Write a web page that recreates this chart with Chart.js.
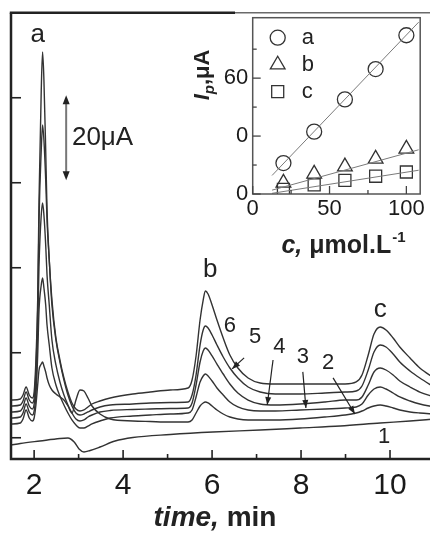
<!DOCTYPE html>
<html>
<head>
<meta charset="utf-8">
<script src="https://cdn.jsdelivr.net/npm/chart.js@4.4.1/dist/chart.umd.min.js"></script>
<style>
  html, body { margin: 0; padding: 0; background: #fff; overflow: hidden; width: 430px; height: 536px; }
  #wrap { position: relative; width: 430px; height: 536px; overflow: hidden; }
  #main { position: absolute; left: 0; top: 0; }
  #inset { position: absolute; left: 185px; top: 0; }
</style>
</head>
<body>
<div id="wrap">
  <canvas id="main" width="440" height="536"></canvas>
  <canvas id="inset" width="245" height="262"></canvas>
</div>
<script>
// ---- chromatograms: retention time (min) and current (µA) ----
const sampleTimes = [1.48, 1.69, 1.75, 1.82, 1.89, 1.96, 2.00,
  2.04, 2.08, 2.11, 2.16, 2.19,
  2.22, 2.26, 2.29, 2.34, 2.40,
  2.49, 2.58, 2.67, 2.76,
  2.85, 2.94, 3.03, 3.12, 3.21, 3.30,
  3.48, 3.71, 4.22, 4.61, 5.06, 5.46,
  5.55, 5.64, 5.73, 5.80, 5.85,
  5.91, 6.00, 6.11, 6.25, 6.40,
  6.58, 6.81, 7.08, 7.42, 7.98,
  8.54, 8.99, 9.24, 9.37, 9.51,
  9.64, 9.78, 9.91, 10.07, 10.22,
  10.45, 10.67, 10.99];

const trace2 = [3.24, 3.47, 4.41, 6.53, 4.65, 3.94, 4.65,
  7.71, 12.41, 15.94, 17.35, 17.82,
  16.88, 15.47, 14.06, 12.41, 11.24,
  10.29, 9.59, 8.88, 7.47,
  5.82, 8.88, 11.24, 11.00, 9.35, 7.47,
  5.59, 4.41, 3.94, 3.82, 3.71, 3.71,
  4.18, 5.82, 7.47, 8.18, 8.41,
  8.18, 7.47, 6.53, 5.59, 4.88,
  4.41, 4.18, 4.18, 4.18, 4.41,
  4.88, 5.35, 5.82, 6.29, 7.00,
  7.47, 7.71, 7.47, 7.00, 6.53,
  6.06, 5.82, 5.59];

const trace3 = [4.65, 4.88, 5.82, 7.94, 6.06, 5.35, 6.29,
  10.06, 19.47, 30.06, 35.94, 37.59,
  35.24, 31.24, 26.53, 21.82, 16.41,
  12.41, 9.82, 7.71, 5.82,
  4.18, 3.00, 2.29, 2.29, 2.76, 3.24,
  3.94, 4.65, 5.12, 5.35, 5.59, 5.82,
  6.53, 9.59, 13.12, 14.53, 15.00,
  14.53, 13.35, 11.71, 10.06, 8.41,
  7.24, 6.53, 6.29, 6.29, 6.53,
  6.76, 7.00, 7.24, 7.94, 10.06,
  11.47, 11.94, 11.47, 10.53, 9.59,
  8.65, 7.94, 7.24];

const trace4 = [6.06, 6.29, 7.24, 9.35, 7.47, 6.76, 7.94,
  12.41, 25.35, 40.65, 52.41, 55.24,
  52.41, 45.35, 38.29, 31.24, 23.00,
  17.12, 13.12, 10.06, 7.71,
  5.82, 4.41, 3.94, 4.18, 4.88, 5.35,
  6.06, 6.41, 6.65, 6.76, 6.88, 7.00,
  8.18, 12.41, 17.82, 20.41, 21.12,
  20.65, 19.24, 17.35, 15.00, 12.65,
  10.53, 8.88, 7.94, 7.71, 7.94,
  8.41, 8.88, 8.88, 9.59, 12.41,
  15.47, 16.41, 15.94, 14.76, 13.35,
  11.94, 10.76, 9.59];

const trace5 = [7.47, 7.71, 8.65, 10.76, 8.88, 8.18, 9.35,
  15.94, 30.06, 51.24, 67.71, 73.59,
  70.06, 60.65, 51.24, 41.82, 31.24,
  23.00, 17.82, 13.59, 10.06,
  7.47, 5.82, 5.35, 5.59, 6.06, 6.53,
  7.24, 7.71, 7.94, 8.18, 8.29, 8.41,
  10.06, 14.76, 21.82, 25.35, 26.29,
  25.82, 24.18, 21.82, 19.00, 16.41,
  14.06, 11.94, 10.76, 10.29, 10.29,
  10.53, 10.76, 11.00, 12.18, 15.94,
  20.18, 21.82, 21.35, 19.71, 17.82,
  15.71, 14.06, 11.94];

const trace6 = [8.88, 9.12, 10.06, 11.94, 10.06, 9.35, 10.76,
  18.29, 32.41, 55.94, 81.82, 90.76,
  84.18, 67.71, 53.59, 41.82, 32.41,
  23.47, 18.29, 14.06, 10.76,
  8.18, 6.76, 6.29, 6.53, 7.24, 7.94,
  8.65, 9.35, 10.29, 10.76, 11.24, 11.71,
  13.59, 19.24, 27.71, 32.41, 34.53,
  33.82, 31.24, 27.71, 23.47, 19.47,
  16.41, 14.06, 12.88, 12.65, 12.65,
  12.65, 12.65, 13.12, 14.76, 19.47,
  24.41, 26.06, 25.35, 23.47, 21.35,
  18.76, 16.41, 14.06];

// blank run (trace 1)
const blankTimes = [1.48, 1.69, 2.13, 2.58, 2.76, 2.90, 3.01, 3.12, 3.26, 3.48,
  3.82, 4.22, 5.06, 6.02, 7.08, 7.98, 8.88, 9.78, 10.45, 10.99];
const blankTrace = [-1.71, -1.35, -0.76, -0.18, -0.06, -1.00, -2.65, -3.35, -3.00, -2.18,
  -0.76, 0.06, 0.76, 1.35, 1.82, 2.29, 2.76, 3.47, 3.94, 4.41];

const timeTicks = [2, 4, 6, 8, 10];
const timeMinorTicks = [3, 5, 7, 9];
const currentTicks = [0, 20, 40, 60, 80];

// ---- calibration (inset): concentration (µmol/L) vs peak current (µA) ----
const concentrations = [20, 40, 60, 80, 100];
const peakA = [16.0, 32.3, 49.0, 64.7, 82.2];
const peakB = [5.8, 10.4, 14.2, 18.2, 23.4];
const peakC = [2.4, 4.7, 7.1, 9.2, 11.4];
const fitRange = [12.6, 108];
const fitA = [9.6, 89.0];
const fitB = [2.0, 22.9];
const fitC = [0.35, 12.3];
const concTicks = [0, 50, 100];
const concMinorTicks = [25, 75];
const insetCurrentTicks = [0, 30, 60];
const insetCurrentLabels = ['0', '0', '60'];
const insetCurrentMinor = [15, 45, 75];

// ---- styling ----
const INK = '#222';
const LINE = '#333';
const FONT = '"Liberation Sans", Arial, Helvetica, sans-serif';

const toPoints = (xs, ys) => xs.map((x, i) => ({ x, y: ys[i] }));

function segment(ctx, x1, y1, x2, y2) {
  ctx.beginPath(); ctx.moveTo(x1, y1); ctx.lineTo(x2, y2); ctx.stroke();
}
function arrowHead(ctx, x1, y1, x2, y2, len, half) {
  const ang = Math.atan2(y2 - y1, x2 - x1);
  ctx.beginPath();
  ctx.moveTo(x2, y2);
  ctx.lineTo(x2 - len * Math.cos(ang) + half * Math.sin(ang), y2 - len * Math.sin(ang) - half * Math.cos(ang));
  ctx.lineTo(x2 - len * Math.cos(ang) - half * Math.sin(ang), y2 - len * Math.sin(ang) + half * Math.cos(ang));
  ctx.closePath(); ctx.fill();
}
function label(ctx, s, x, y, font, align, base) {
  ctx.font = font; ctx.textAlign = align || 'center'; ctx.textBaseline = base || 'middle';
  ctx.fillText(s, x, y);
}

// annotation anchors in data units (time, current)
const peakNotes = [['a', 2.08, 94.8], ['b', 5.96, 39.5], ['c', 9.78, 30.1]];
const traceNotes = [['6', 6.40, 26.3], ['5', 6.97, 23.7], ['4', 7.51, 21.4],
                    ['3', 8.04, 19.0], ['2', 8.61, 17.6], ['1', 9.87, 0.2]];
const pointers = [[6.72, 18.8, 6.45, 16.2], [7.37, 18.3, 7.24, 7.7],
                  [8.04, 15.5, 8.11, 7.0], [8.72, 14.1, 9.21, 5.6]];
const scaleBar = { t: 2.72, from: 60.6, span: 20, text: '20\u03BCA', textT: 2.85 };

const mainDecor = {
  id: 'mainDecor',
  afterDatasetsDraw(chart) {
    const { ctx, chartArea: a, scales: { x, y } } = chart;
    ctx.save();
    ctx.lineCap = 'butt';
    // frame
    ctx.strokeStyle = INK; ctx.lineWidth = 2.5;
    ctx.beginPath();
    ctx.moveTo(a.left, a.top); ctx.lineTo(a.left, a.bottom); ctx.lineTo(a.right + 4, a.bottom);
    ctx.stroke();
    segment(ctx, a.left - 1.2, a.top, 235, a.top);
    ctx.strokeStyle = '#6a6a6a'; ctx.lineWidth = 1.6;
    segment(ctx, 235, a.top, a.right + 4, a.top);

    // inward tick marks
    ctx.strokeStyle = INK; ctx.lineWidth = 1.6;
    timeTicks.forEach(v => { const p = x.getPixelForValue(v); segment(ctx, p, a.bottom, p, a.bottom - 9); });
    timeMinorTicks.forEach(v => { const p = x.getPixelForValue(v); segment(ctx, p, a.bottom, p, a.bottom - 5); });
    currentTicks.forEach(v => { const p = y.getPixelForValue(v); segment(ctx, a.left, p, a.left + 10, p); });

    // peak and trace labels
    ctx.fillStyle = INK;
    peakNotes.forEach(([s, t, i]) => label(ctx, s, x.getPixelForValue(t), y.getPixelForValue(i), '26px ' + FONT));
    traceNotes.forEach(([s, t, i]) => label(ctx, s, x.getPixelForValue(t), y.getPixelForValue(i), '22px ' + FONT));

    // pointer arrows to traces
    ctx.strokeStyle = INK; ctx.lineWidth = 1.2;
    pointers.forEach(([t1, i1, t2, i2]) => {
      const x1 = x.getPixelForValue(t1), y1 = y.getPixelForValue(i1);
      const x2 = x.getPixelForValue(t2), y2 = y.getPixelForValue(i2);
      segment(ctx, x1, y1, x2, y2);
      arrowHead(ctx, x1, y1, x2, y2, 8, 3);
    });

    // 20 µA scale bar
    const bx = x.getPixelForValue(scaleBar.t);
    const yb = y.getPixelForValue(scaleBar.from), yt = y.getPixelForValue(scaleBar.from + scaleBar.span);
    ctx.strokeStyle = '#777'; ctx.lineWidth = 2;
    segment(ctx, bx, yb - 4, bx, yt + 4);
    ctx.fillStyle = INK;
    arrowHead(ctx, bx, yb - 10, bx, yb, 9, 3.5);
    arrowHead(ctx, bx, yt + 10, bx, yt, 9, 3.5);
    label(ctx, scaleBar.text, x.getPixelForValue(scaleBar.textT), (yb + yt) / 2, '26px ' + FONT, 'left');

    // axis title: time, min
    const f1 = 'italic bold 28px ' + FONT, f2 = 'bold 28px ' + FONT;
    ctx.font = f1; const w1 = ctx.measureText('time,').width;
    ctx.font = f2; const w2 = ctx.measureText(' min').width;
    const sx = 215 - (w1 + w2) / 2, by = 526;
    label(ctx, 'time,', sx, by, f1, 'left', 'alphabetic');
    label(ctx, ' min', sx + w1, by, f2, 'left', 'alphabetic');
    ctx.restore();
  }
};

const traceSets = [
  toPoints(blankTimes, blankTrace),
  toPoints(sampleTimes, trace2),
  toPoints(sampleTimes, trace3),
  toPoints(sampleTimes, trace4),
  toPoints(sampleTimes, trace5),
  toPoints(sampleTimes, trace6)
];

new Chart(document.getElementById('main'), {
  type: 'line',
  data: {
    datasets: traceSets.map((pts, k) => ({
      label: String(k + 1), data: pts, borderColor: LINE, borderWidth: 1.4,
      pointRadius: 0, fill: false, cubicInterpolationMode: 'monotone'
    }))
  },
  options: {
    responsive: false, animation: false, devicePixelRatio: 1,
    layout: { padding: { left: 11, top: 12.75, right: 5.5, bottom: 0 } },
    plugins: { legend: { display: false }, tooltip: { enabled: false } },
    scales: {
      x: {
        type: 'linear', min: 1.48, max: 11.0, bounds: 'data',
        grid: { display: false, drawTicks: false }, border: { display: false },
        afterBuildTicks: s => { s.ticks = timeTicks.map(v => ({ value: v })); },
        afterFit: s => { s.height = 77; },
        ticks: { font: { family: FONT, size: 30 }, color: '#1a1a1a', padding: 9, maxRotation: 0, autoSkip: false }
      },
      y: {
        type: 'linear', min: -5, max: 100, bounds: 'data',
        grid: { display: false, drawTicks: false }, border: { display: false },
        afterBuildTicks: s => { s.ticks = currentTicks.map(v => ({ value: v })); },
        afterFit: s => { s.width = 0; },
        ticks: { display: false }
      }
    }
  },
  plugins: [mainDecor]
});

// ---- inset ----
const markerStyles = [['circle', 7.5], ['triangle', 8.5], ['rect', 8.5]];
const seriesNames = ['a', 'b', 'c'];

function marker(ctx, style, r, cx, cy) {
  ctx.beginPath();
  if (style === 'circle') {
    ctx.arc(cx, cy, r, 0, Math.PI * 2);
  } else if (style === 'triangle') {
    for (let k = 0; k < 3; k++) {
      const ang = k * 2 * Math.PI / 3;
      const px = cx + Math.sin(ang) * r, py = cy - Math.cos(ang) * r;
      k ? ctx.lineTo(px, py) : ctx.moveTo(px, py);
    }
    ctx.closePath();
  } else {
    const s = Math.SQRT1_2 * r;
    ctx.rect(cx - s, cy - s, 2 * s, 2 * s);
  }
  ctx.stroke();
}

const insetDecor = {
  id: 'insetDecor',
  afterDatasetsDraw(chart) {
    const { ctx, chartArea: a, scales: { x, y } } = chart;
    ctx.save();
    ctx.strokeStyle = '#555'; ctx.lineWidth = 1.5;
    ctx.strokeRect(a.left, a.top, a.right - a.left, a.bottom - a.top);

    ctx.strokeStyle = '#444'; ctx.lineWidth = 1.3;
    concTicks.forEach(v => { const p = x.getPixelForValue(v); segment(ctx, p, a.bottom, p, a.bottom - 8); });
    concMinorTicks.forEach(v => { const p = x.getPixelForValue(v); segment(ctx, p, a.bottom, p, a.bottom - 4); });
    insetCurrentTicks.forEach(v => { const p = y.getPixelForValue(v); segment(ctx, a.left, p, a.left + 8, p); });
    insetCurrentMinor.forEach(v => { const p = y.getPixelForValue(v); segment(ctx, a.left, p, a.left + 4, p); });

    // legend
    ctx.strokeStyle = '#333'; ctx.lineWidth = 1.3; ctx.fillStyle = INK;
    markerStyles.forEach(([st, r], k) => {
      const cy = a.top + 20 + 27 * k;
      marker(ctx, st, r, a.left + 25, cy);
      label(ctx, seriesNames[k], a.left + 49, cy, '22px ' + FONT, 'left');
    });

    // y title: I_p, µA (rotated)
    ctx.save();
    ctx.translate(24, 75);
    ctx.rotate(-Math.PI / 2);
    const fI = 'italic bold 22px ' + FONT, fp = 'italic bold 15px ' + FONT, fu = 'bold 22px ' + FONT;
    ctx.font = fI; const wI = ctx.measureText('I').width;
    ctx.font = fp; const wp = ctx.measureText('p').width;
    ctx.font = fu; const wu = ctx.measureText(',\u03BCA').width;
    let sx = -(wI + wp + wu) / 2;
    label(ctx, 'I', sx, 0, fI, 'left', 'alphabetic'); sx += wI;
    label(ctx, 'p', sx, 5, fp, 'left', 'alphabetic'); sx += wp;
    label(ctx, ',\u03BCA', sx, 0, fu, 'left', 'alphabetic');
    ctx.restore();

    // x title: c, µmol.L-1
    const fc = 'italic bold 25px ' + FONT, fm = 'bold 25px ' + FONT, fs = 'bold 15px ' + FONT;
    ctx.font = fc; const wc = ctx.measureText('c,').width;
    ctx.font = fm; const wm = ctx.measureText(' \u03BCmol.L').width;
    ctx.font = fs; const ws = ctx.measureText('-1').width;
    let tx = 158 - (wc + wm + ws) / 2;
    const ty = 253;
    label(ctx, 'c,', tx, ty, fc, 'left', 'alphabetic'); tx += wc;
    label(ctx, ' \u03BCmol.L', tx, ty, fm, 'left', 'alphabetic'); tx += wm;
    label(ctx, '-1', tx + 1, ty - 11, fs, 'left', 'alphabetic');
    ctx.restore();
  }
};

const fitStyle = { showLine: true, borderColor: '#7a7a7a', borderWidth: 1, pointRadius: 0, fill: false };
const markStyle = { borderColor: '#333', borderWidth: 1.3, backgroundColor: 'rgba(0,0,0,0)' };

new Chart(document.getElementById('inset'), {
  type: 'scatter',
  data: {
    datasets: [
      Object.assign({ label: 'fit a', data: toPoints(fitRange, fitA) }, fitStyle),
      Object.assign({ label: 'fit b', data: toPoints(fitRange, fitB) }, fitStyle),
      Object.assign({ label: 'fit c', data: toPoints(fitRange, fitC) }, fitStyle),
      Object.assign({ label: 'a', data: toPoints(concentrations, peakA), pointStyle: 'circle', pointRadius: 7.5 }, markStyle),
      Object.assign({ label: 'b', data: toPoints(concentrations, peakB), pointStyle: 'triangle', pointRadius: 8.5 }, markStyle),
      Object.assign({ label: 'c', data: toPoints(concentrations, peakC), pointStyle: 'rect', pointRadius: 8.5 }, markStyle)
    ]
  },
  options: {
    responsive: false, animation: false, devicePixelRatio: 1,
    layout: { padding: { left: 27.7, top: 13, right: 8, bottom: 0 } },
    plugins: { legend: { display: false }, tooltip: { enabled: false } },
    scales: {
      x: {
        type: 'linear', min: 0, max: 109, bounds: 'data',
        grid: { display: false, drawTicks: false }, border: { display: false },
        afterBuildTicks: s => { s.ticks = concTicks.map(v => ({ value: v })); },
        afterFit: s => { s.height = 68; },
        ticks: { font: { family: FONT, size: 22 }, color: '#1a1a1a', padding: 2, maxRotation: 0, autoSkip: false }
      },
      y: {
        type: 'linear', min: 0, max: 91.3, bounds: 'data',
        grid: { display: false, drawTicks: false }, border: { display: false },
        afterBuildTicks: s => { s.ticks = insetCurrentTicks.map(v => ({ value: v })); },
        afterFit: s => { s.width = 40; },
        ticks: { font: { family: FONT, size: 22 }, color: '#1a1a1a', padding: 4.5,
                 callback: (v, i) => insetCurrentLabels[i] }
      }
    }
  },
  plugins: [insetDecor]
});
</script>
</body>
</html>
